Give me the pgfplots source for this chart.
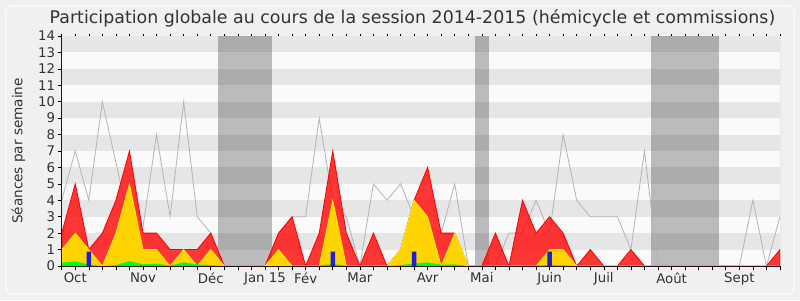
\documentclass[border=0pt]{standalone}
\usepackage{pgfplots}
\pgfplotsset{compat=1.18}
\usepackage{fontspec}
\setmainfont{DejaVu Sans}
\pgfdeclarelayer{bg}
\pgfsetlayers{bg,main}
\definecolor{bgc}{RGB}{240,240,240}
\definecolor{stripe}{RGB}{230,230,230}
\definecolor{stripel}{RGB}{250,250,250}
\definecolor{yelf}{RGB}{255,212,0}
\definecolor{yell}{RGB}{250,245,0}
\definecolor{grnf}{RGB}{0,255,0}
\definecolor{bluf}{RGB}{30,30,220}
\definecolor{greyl}{RGB}{180,180,180}
\definecolor{txt}{RGB}{50,50,50}
\definecolor{axc}{RGB}{40,20,20}
\begin{document}
\begin{tikzpicture}[x=1pt,y=1pt]
\begin{axis}[width=718.3pt, height=230pt, scale only axis,
 xmin=0, xmax=53, ymin=0, ymax=14,
 axis on top,
 axis x line*=bottom, axis y line*=left,
 axis line style={-, axc, line width=0.8pt},
 ytick={0,...,14},
 xtick={1,6,11,15,18,22,27,31,36,40,45,50},
 xticklabels={Oct,Nov,Déc,Jan 15,Fév,Mar,Avr,Mai,Juin,Juil,Août,Sept},
 minor xtick={0,...,53},
 tick align=outside, major tick length=4pt, minor tick length=4pt,
 tick style={black, line width=0.6pt},
 ticklabel style={font=\fontsize{13.3}{15}\selectfont, text=txt},
 yticklabel style={xshift=1pt},
 xticklabel style={yshift=1pt},
 /pgf/number format/assume math mode=true,
 ylabel={Séances par semaine},
 every axis y label/.style={at={(axis description cs:0,0.5)}, xshift=-43.4pt, rotate=90, anchor=center, font=\fontsize{13.6}{15}\selectfont, text=txt},
 axis background/.style={fill=stripel},
]
\coordinate (O) at (rel axis cs:0,0);
\fill[stripe] (axis cs:0,1) rectangle (axis cs:53,2);
\fill[stripe] (axis cs:0,3) rectangle (axis cs:53,4);
\fill[stripe] (axis cs:0,5) rectangle (axis cs:53,6);
\fill[stripe] (axis cs:0,7) rectangle (axis cs:53,8);
\fill[stripe] (axis cs:0,9) rectangle (axis cs:53,10);
\fill[stripe] (axis cs:0,11) rectangle (axis cs:53,12);
\fill[stripe] (axis cs:0,13) rectangle (axis cs:53,14);
\fill[black, opacity=0.25] (axis cs:11.5,0) rectangle (axis cs:15.5,14);
\fill[black, opacity=0.25] (axis cs:30.5,0) rectangle (axis cs:31.5,14);
\fill[black, opacity=0.25] (axis cs:43.5,0) rectangle (axis cs:48.5,14);
\draw[gray!50] (axis cs:53,0) -- (axis cs:53,14);
% grey line
\addplot[greyl, line width=0.8pt] coordinates {(0,4)(1,7)(2,4)(3,10)(4,6.3)(5,2.6)(6,2.4)(7,8)(8,3)(9,10)(10,3)(11,2)(12,0)(13,0)(14,0)(15,0)(16,2)(17,3)(18,3)(19,9)(20,4)(21,3)(22,0)(23,5)(24,4)(25,5)(26,3)(27,2.5)(28,2)(29,5)(30,0)(31,0)(32,0)(33,2)(34,2)(35,4)(36,2)(37,8)(38,4)(39,3)(40,3)(41,3)(42,1)(43,7)(44,0)(45,0)(46,0)(47,0)(48,0)(49,0)(50,0)(51,4)(52,0)(53,3)};
% red total
\addplot[draw=red, line width=0.8pt, fill=red, fill opacity=0.78] coordinates {(0,2)(1,5)(2,1)(3,2)(4,4)(5,7)(6,2)(7,2)(8,1)(9,1)(10,1)(11,2)(12,0)(13,0)(14,0)(15,0)(16,2)(17,3)(18,0)(19,2)(20,7)(21,2)(22,0)(23,2)(24,0)(25,1)(26,4)(27,6)(28,2)(29,2)(30,0)(31,0)(32,2)(33,0)(34,4)(35,2)(36,3)(37,2)(38,0)(39,1)(40,0)(41,0)(42,1)(43,0)(44,0)(45,0)(46,0)(47,0)(48,0)(49,0)(50,0)(51,0)(52,0)(53,1)} \closedcycle;
% yellow
\addplot[draw=yell, line width=0.7pt, fill=yelf] coordinates {(0,1)(1,2)(2,1)(3,0)(4,2)(5,5)(6,1)(7,1)(8,0)(9,1)(10,0)(11,1)(12,0)(13,0)(14,0)(15,0)(16,1)(17,0)(18,0)(19,0)(20,4)(21,0)(22,0)(23,0)(24,0)(25,1)(26,4)(27,3)(28,0)(29,2)(30,0)(31,0)(32,0)(33,0)(34,0)(35,0)(36,1)(37,1)(38,0)(39,0)(40,0)(41,0)(42,0)(43,0)(44,0)(45,0)(46,0)(47,0)(48,0)(49,0)(50,0)(51,0)(52,0)(53,0)} \closedcycle;
% green
\addplot[draw=none, fill=grnf] coordinates {(0,0.2)(1,0.28)(2,0.1)(3,0)(4,0.05)(5,0.3)(6,0.1)(7,0.15)(8,0.02)(9,0.22)(10,0.1)(11,0.05)(12,0)(13,0)(14,0)(15,0)(16,0)(17,0)(18,0)(19,0.03)(20,0.12)(21,0.03)(22,0)(23,0)(24,0)(25,0.05)(26,0.15)(27,0.22)(28,0.08)(29,0.1)(30,0)(31,0)(32,0)(33,0)(34,0)(35,0.04)(36,0.05)(37,0.04)(38,0)(39,0)(40,0)(41,0)(42,0)(43,0)(44,0)(45,0)(46,0)(47,0)(48,0)(49,0)(50,0)(51,0)(52,0)(53,0)} \closedcycle;
% blue bars
\addplot[ybar, bar width=4.5pt, bar shift=0pt, fill=bluf, draw=none] coordinates {(2,0.87)(20,0.87)(26,0.87)(36,0.87)};
\end{axis}
\begin{axis}[width=718.3pt, height=230pt, scale only axis,
 xmin=0, xmax=53, ymin=0, ymax=14,
 axis x line*=top, axis y line=none,
 x axis line style={draw=none},
 xtick={0,...,53}, xticklabels={}, ytick=\empty,
 tick align=outside, major tick length=1.5pt,
 tick style={black, line width=0.6pt},
]
\end{axis}
\begin{scope}[shift={(O)}]
\begin{pgfonlayer}{bg}
\fill[bgc] (-61.7,-34) rectangle (738.3,266);
\draw[white, line width=1pt, rounded corners=6pt] (-55.7,-28) rectangle (732.3,260);
\end{pgfonlayer}
\node[font=\fontsize{17.4}{20}\selectfont, text=txt] at (350.8,248) {Participation globale au cours de la session 2014-2015 (hémicycle et commissions)};
\end{scope}
\end{tikzpicture}
\end{document}
